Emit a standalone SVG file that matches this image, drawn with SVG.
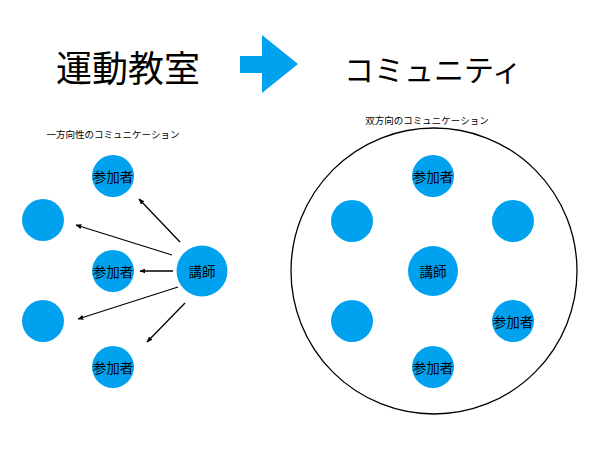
<svg xmlns="http://www.w3.org/2000/svg" width="600" height="450" viewBox="0 0 600 450">
<style>
.n{fill:#00A2F0}
.t{font-family:"Noto Sans CJK JP","Noto Sans CJK SC",sans-serif;fill:#000;text-anchor:middle}
.lb{font-size:13.5px;dominant-baseline:central}
.cap{font-size:9.5px}
.c{stroke:#000;stroke-width:1.3;fill:none;marker-end:url(#ah)}
</style>
<defs>
<marker id="ah" viewBox="0 0 10 10" refX="9" refY="5" markerWidth="6" markerHeight="6" orient="auto" markerUnits="userSpaceOnUse">
<path d="M0,1 L10,5 L0,9 z" fill="#000"/>
</marker>
</defs>
<rect width="600" height="450" fill="#fff"/>
<g id="header">
<text class="t" x="128" y="82" font-size="36" font-family="Noto Sans CJK JP,sans-serif">運動教室</text>
<path id="bigarrow" d="M240,56 L262,56 L262,35 L298,64 L262,93 L262,73 L240,73 z" fill="#00A2F0"/>
<text class="t" x="433" y="81" font-size="30">コミュニティ</text>
</g>
<g id="left">
<text class="t cap" x="113" y="138">一方向性のコミュニケーション</text>
<g id="l-p1"><circle class="n" cx="113" cy="176" r="21"/><text class="t lb" x="113" y="176">参加者</text></g>
<g id="l-a1"><circle class="n" cx="43" cy="220" r="21"/></g>
<g id="l-p2"><circle class="n" cx="113" cy="271" r="21"/><text class="t lb" x="113" y="271">参加者</text></g>
<g id="l-a2"><circle class="n" cx="43" cy="321" r="21"/></g>
<g id="l-p3"><circle class="n" cx="113" cy="367" r="21"/><text class="t lb" x="113" y="367">参加者</text></g>
<g id="l-teacher"><circle class="n" cx="202" cy="271" r="25.5"/><text class="t lb" x="202" y="271">講師</text></g>
</g>
<g id="connectors">
<line class="c" x1="180" y1="242" x2="139" y2="199"/>
<line class="c" x1="172" y1="255" x2="76" y2="225"/>
<line class="c" x1="173" y1="271" x2="140" y2="271"/>
<line class="c" x1="178" y1="287" x2="78" y2="319"/>
<line class="c" x1="185" y1="303" x2="147" y2="342"/>
</g>
<g id="right">
<text class="t cap" x="427" y="124">双方向のコミュニケーション</text>
<circle id="community" cx="434" cy="271" r="143" fill="none" stroke="#000" stroke-width="1.3"/>
<g id="r-p1"><circle class="n" cx="433" cy="176" r="21"/><text class="t lb" x="433" y="176">参加者</text></g>
<g id="r-a1"><circle class="n" cx="352" cy="221" r="21"/></g>
<g id="r-a2"><circle class="n" cx="513" cy="221" r="21"/></g>
<g id="r-teacher"><circle class="n" cx="433" cy="271" r="25"/><text class="t lb" x="433" y="271">講師</text></g>
<g id="r-a3"><circle class="n" cx="352" cy="321" r="21"/></g>
<g id="r-p2"><circle class="n" cx="513" cy="321" r="21"/><text class="t lb" x="513" y="321">参加者</text></g>
<g id="r-p3"><circle class="n" cx="433" cy="367" r="21"/><text class="t lb" x="433" y="367">参加者</text></g>
</g>
</svg>
